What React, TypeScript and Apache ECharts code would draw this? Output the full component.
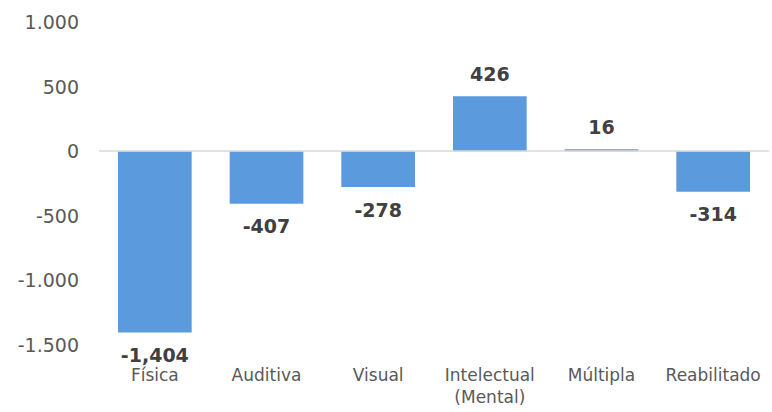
import React, { useEffect, useRef } from "react";
import * as echarts from "echarts";

const categories = ["Física", "Auditiva", "Visual", "Intelectual\n(Mental)", "Múltipla", "Reabilitado"];
const values = [-1404, -407, -278, 426, 16, -314];
const yMin = -1500;
const yMax = 1000;
const yInterval = 500;

const FONT = "'DejaVu Sans', sans-serif";

function fmtDot(v: number): string {
  const s = Math.abs(v).toString().replace(/\B(?=(\d{3})+(?!\d))/g, ".");
  return (v < 0 ? "-" : "") + s;
}
function fmtComma(v: number): string {
  const s = Math.abs(v).toString().replace(/\B(?=(\d{3})+(?!\d))/g, ",");
  return (v < 0 ? "-" : "") + s;
}

export default function App() {
  const ref = useRef<HTMLDivElement>(null);
  useEffect(() => {
    if (!ref.current) return;
    const chart = echarts.init(ref.current, undefined, { renderer: "svg" });
    chart.setOption({
      animation: false,
      grid: { left: 99, right: 3, top: 22, bottom: 67, containLabel: false },
      xAxis: {
        type: "category",
        data: categories,
        position: "bottom",
        axisLine: { show: false, onZero: false },
        axisTick: { show: false },
        axisLabel: {
          color: "#595959",
          fontSize: 17,
          fontFamily: FONT,
          margin: 19,
          lineHeight: 22,
          interval: 0,
        },
      },
      yAxis: {
        type: "value",
        min: yMin,
        max: yMax,
        interval: yInterval,
        axisLine: { show: false },
        axisTick: { show: false },
        splitLine: { show: false },
        axisLabel: {
          color: "#595959",
          fontSize: 19,
          fontFamily: FONT,
          margin: 20,
          formatter: (v: number) => fmtDot(v),
        },
      },
      series: [
        {
          type: "bar",
          barWidth: "66%",
          itemStyle: { color: "#5b9bdd" },
          data: values.map((v) => ({
            value: v,
            label: {
              show: true,
              position: v < 0 ? "bottom" : "top",
              distance: 13,
            },
          })),
          label: {
            show: true,
            color: "#404040",
            fontWeight: "bold",
            fontSize: 19,
            fontFamily: FONT,
            formatter: (p: any) => fmtComma(p.value),
          },
          markLine: {
            silent: true,
            symbol: "none",
            label: { show: false },
            lineStyle: { color: "#d9d9d9", type: "solid", width: 1.5 },
            data: [{ yAxis: 0 }],
          },
        },
      ],
    });
    return () => chart.dispose();
  }, []);
  return (
    <div
      ref={ref}
      style={{ position: "fixed", left: 0, top: 0, width: 772, height: 412, background: "#fff" }}
    />
  );
}
